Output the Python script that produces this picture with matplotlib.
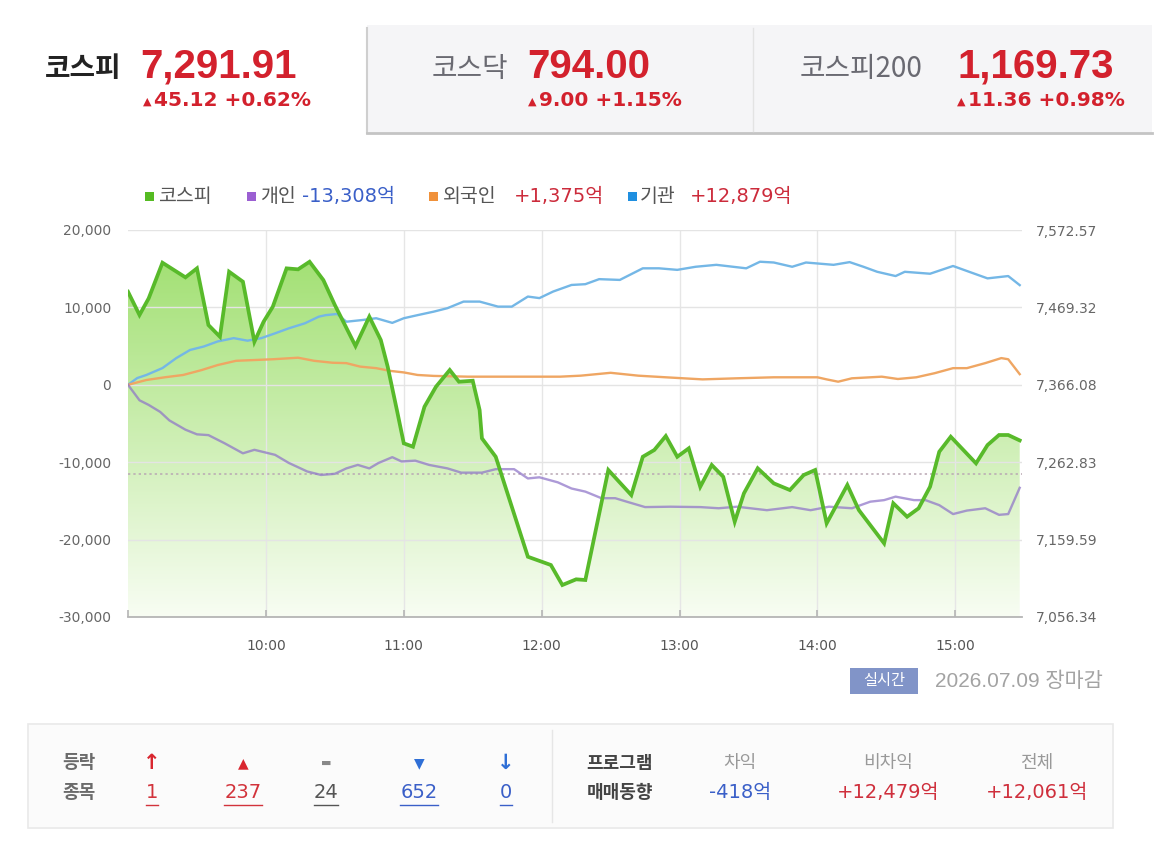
import numpy as np
import matplotlib
matplotlib.use("Agg")
import matplotlib.pyplot as plt
from matplotlib.patches import Rectangle
from matplotlib.lines import Line2D
from matplotlib.colors import to_rgb

plt.rcParams['font.family'] = ['Noto Sans CJK KR', 'DejaVu Sans']

# ---- data (time = minutes after 09:00) ----
kospi_t = [0, 5, 9, 15, 25, 30, 35, 40, 44, 50, 55, 59, 63, 69, 74, 79, 85, 90, 99, 105,
           110, 113, 117, 120, 124, 129, 134, 140, 144, 150, 153, 154, 160, 174, 184, 189, 195, 199, 209, 219,
           224, 229, 234, 239, 244, 249, 254, 259, 264, 268, 274, 281, 288, 294, 299, 304, 313, 318, 329, 333,
           339, 344, 349, 353, 358, 369, 374, 379, 383, 388]
kospi_v = [7490.2, 7459.2, 7481.4, 7528.9, 7509.4, 7521.4, 7445.8, 7430.2, 7516.9, 7503.6,
           7423.5, 7450.2, 7470.2, 7521.4, 7520.1, 7530.2, 7505.8, 7472.5, 7417.8, 7456.9,
           7425.8, 7390.2, 7332.4, 7288.0, 7283.5, 7336.8, 7363.5, 7385.8, 7370.2, 7371.5,
           7332.4, 7294.7, 7270.1, 7136.7, 7125.7, 7099.0, 7106.6, 7105.7, 7252.4, 7219.0,
           7270.1, 7279.1, 7297.7, 7270.1, 7281.3, 7230.1, 7259.1, 7243.4, 7183.4, 7221.3,
           7254.7, 7234.6, 7225.7, 7245.7, 7252.4, 7181.3, 7232.4, 7199.0, 7154.6, 7208.0,
           7190.1, 7201.3, 7230.1, 7276.8, 7296.8, 7261.3, 7285.7, 7299.1, 7299.1, 7291.9]
prev_close = 7246.79

# 개인 (individuals), 억 won
ind_t = [0, 5, 9, 14, 18, 25, 30, 35, 42, 50, 55, 64, 70, 78, 84, 90, 95, 100, 105, 109,
         115, 119, 125, 131, 139, 145, 154, 160, 168, 174, 179, 187, 193, 199, 206, 212, 217, 225, 236, 249,
         257, 265, 278, 289, 297, 305, 315, 323, 329, 334, 342, 347, 353, 359, 365, 373, 379, 383, 388]
ind_v = [0, -2000, -2600, -3500, -4600, -5800, -6400, -6500, -7550, -8850,
         -8400, -9050, -10100, -11200, -11650, -11500, -10800, -10350, -10800, -10100,
         -9350, -9900, -9800, -10350, -10800, -11350, -11350, -10900, -10900, -12100,
         -11950, -12600, -13400, -13800, -14650, -14650, -15100, -15800, -15750, -15800,
         -15950, -15750, -16200, -15800, -16200, -15750, -15950, -15100, -14900, -14450,
         -14900, -14900, -15550, -16700, -16250, -15950, -16800, -16700, -13308]

# 외국인 (foreigners)
frg_t = [0, 8, 16, 24, 32, 39, 47, 55, 63, 74, 81, 89, 95, 101, 108, 114, 120, 126, 133, 148,
         164, 179, 188, 197, 210, 222, 234, 250, 265, 281, 300, 304, 309, 315, 328, 335, 343, 351, 359, 365,
         373, 380, 383, 388]
frg_v = [0, 620, 970, 1270, 1900, 2550, 3100, 3200, 3300, 3500,
         3100, 2850, 2800, 2350, 2150, 1800, 1600, 1270, 1150, 1050,
         1050, 1050, 1050, 1180, 1550, 1180, 970, 700, 840, 970,
         970, 700, 400, 840, 1050, 750, 970, 1500, 2150, 2150,
         2800, 3450, 3300, 1375]

# 기관 (institutions)
inst_t = [0, 4, 8, 15, 21, 27, 33, 39, 46, 52, 58, 64, 70, 77, 83, 86, 91, 95, 102, 108,
          115, 120, 126, 133, 139, 146, 153, 161, 167, 174, 179, 185, 193, 199, 205, 214, 224, 231, 239, 247,
          256, 269, 275, 281, 289, 295, 307, 314, 320, 326, 334, 338, 349, 359, 366, 374, 383, 388]
inst_v = [0, 870, 1270, 2160, 3450, 4500, 4950, 5600, 6030, 5700,
          6030, 6650, 7300, 7950, 8800, 9000, 9150, 8150, 8370, 8600,
          8000, 8600, 9000, 9450, 9900, 10750, 10750, 10100, 10100, 11400,
          11200, 12050, 12900, 13000, 13650, 13550, 15050, 15050, 14850, 15250,
          15500, 15050, 15900, 15800, 15250, 15800, 15500, 15850, 15250, 14600,
          14050, 14600, 14350, 15350, 14600, 13750, 14050, 12879]

left_ticks = [-30000, -20000, -10000, 0, 10000, 20000]
left_labels = ['-30,000', '-20,000', '-10,000', '0', '10,000', '20,000']
right_lo, right_hi = 7056.34, 7572.57
right_labels = ['7,056.34', '7,159.59', '7,262.83', '7,366.08', '7,469.32', '7,572.57']
hour_ticks = [0, 60, 120, 180, 240, 300, 360]
hour_labels = ['', '10:00', '11:00', '12:00', '13:00', '14:00', '15:00']

legend_names = ['코스피', '개인', '외국인', '기관']
legend_amounts = ['', '-13,308억', '+1,375억', '+12,879억']

W, H = 1160, 850
RED = '#d3212d'
BLUE = '#3a5fc8'
NUM = ['Liberation Sans', 'Noto Sans CJK KR']
DV = ['DejaVu Sans', 'Noto Sans CJK KR']


def fx(x):
    return x / W


def fy(y):
    return 1 - y / H


fig = plt.figure(figsize=(W / 100, H / 100), dpi=100)
fig.patch.set_facecolor('white')

# ---- header ----
fig.add_artist(Rectangle((fx(367), fy(133)), (1152 - 367) / W, 108 / H, transform=fig.transFigure,
                         facecolor='#f5f5f7', edgecolor='none', zorder=0))
fig.add_artist(Line2D([fx(367), fx(367)], [fy(28), fy(133)], color='#cfcfcf', lw=1.5))
fig.add_artist(Line2D([fx(367), fx(1152)], [fy(133), fy(133)], color='#c4c4c4', lw=2))
fig.add_artist(Line2D([fx(753), fx(753)], [fy(28), fy(131)], color='#e3e3e3', lw=1))

headers = [
    (45, '코스피', '#222222', 'bold', 140, '7,291.91', 143, '45.12 +0.62%'),
    (432, '코스닥', '#6a6a72', 'normal', 527, '794.00', 528, '9.00 +1.15%'),
    (800, '코스피200', '#6a6a72', 'normal', 958, '1,169.73', 957, '11.36 +0.98%'),
]
for nx, name, ncol, nw, vx, val, cx, chg in headers:
    fig.text(fx(nx), fy(77), name, fontsize=20, color=ncol, fontweight=nw, va='baseline', ha='left')
    fig.text(fx(vx), fy(78), val, fontsize=29, color=RED, fontweight='bold', family=NUM,
             va='baseline', ha='left')
    fig.text(fx(cx), fy(105), '▲', fontsize=8, color=RED, va='baseline', ha='left', family=DV)
    fig.text(fx(cx + 11), fy(106), chg, fontsize=14.5, color=RED, fontweight='bold', family=DV,
             va='baseline', ha='left')

# ---- legend ----
leg_colors = ['#55bb22', '#9b5fd2', '#f0913a', '#1f8fe0']
sq_x = [145, 247, 429, 628]
name_x = [158, 260, 443, 640]
amt_x = [0, 302, 514, 690]
amt_col = ['', BLUE, '#cc2b3b', '#cc2b3b']
for i in range(4):
    fig.add_artist(Rectangle((fx(sq_x[i]), fy(201)), 9 / W, 9 / H, transform=fig.transFigure,
                             facecolor=leg_colors[i], edgecolor='none'))
    fig.text(fx(name_x[i]), fy(196), legend_names[i], fontsize=14, color='#555555', va='center', ha='left')
    if legend_amounts[i]:
        fig.text(fx(amt_x[i]), fy(196), legend_amounts[i], fontsize=14, color=amt_col[i], family=DV,
                 va='center', ha='left')

# ---- chart ----
ax = fig.add_axes([fx(128), fy(617), 894 / W, 387 / H])
ax2 = ax.twinx()
ax.set_zorder(ax2.get_zorder() + 1)
ax.patch.set_visible(False)

poly = ax2.fill_between(kospi_t, kospi_v, right_lo, facecolor='none', edgecolor='none')
g = np.linspace(0, 1, 300)[:, None, None]
top_c = np.array(to_rgb('#9cde6a'))
bot_c = np.array(to_rgb('#f8fdf3'))
grad = top_c * (1 - g) + bot_c * g
im = ax2.imshow(grad, extent=[0, 389, right_lo, right_hi], aspect='auto', origin='upper',
                interpolation='bilinear', zorder=0)
im.set_clip_path(poly.get_paths()[0], transform=ax2.transData)
ax2.axhline(prev_close, color='#b9a7b3', lw=1.1, ls=(0, (1.5, 2)), zorder=1)
ax2.set_xlim(0, 389)
ax2.set_ylim(right_lo, right_hi)
ax2.set_yticks(np.linspace(right_lo, right_hi, 6), right_labels, family='DejaVu Sans')
ax2.tick_params(axis='y', length=0, pad=10, labelsize=10, labelcolor='#666666')
for s in ax2.spines.values():
    s.set_visible(False)

ax.set_axisbelow(True)
ax.grid(axis='y', color='#e4e4e4', lw=1)
for h in hour_ticks[1:]:
    ax.axvline(h, color='#e6e6e6', lw=1, zorder=0.5)

ax.plot(inst_t, inst_v, color='#74b7e6', lw=1.7, zorder=3)
ax.plot(frg_t, frg_v, color='#efa663', lw=1.7, zorder=3)
ax.plot(ind_t, ind_v, color='#8e74c8', lw=1.7, alpha=0.72, zorder=3)
ax.plot(kospi_t, kospi_v, color='#58ba2a', lw=2.7, zorder=5, transform=ax2.transData,
        solid_joinstyle='miter')

ax.set_xlim(0, 389)
ax.set_ylim(-30000, 20000)
ax.set_yticks(left_ticks, left_labels, family='DejaVu Sans')
ax.set_xticks(hour_ticks, hour_labels, family='DejaVu Sans')
ax.tick_params(axis='y', length=0, pad=12, labelsize=10, labelcolor='#666666')
ax.tick_params(axis='x', direction='in', length=5, width=1.2, color='#b5b5b5', pad=16,
               labelsize=10, labelcolor='#555555')
for side in ['top', 'left', 'right']:
    ax.spines[side].set_visible(False)
ax.spines['bottom'].set_color('#b5b5b5')
ax.spines['bottom'].set_linewidth(1.3)

# ---- realtime badge ----
fig.add_artist(Rectangle((fx(850), fy(694)), 68 / W, 26 / H, transform=fig.transFigure,
                         facecolor='#8194c8', edgecolor='none'))
fig.text(fx(884), fy(681), '실시간', fontsize=11, color='white', ha='center', va='center')
fig.text(fx(935), fy(681), '2026.07.09 장마감', fontsize=15, color='#a3a3a3', family=NUM,
         ha='left', va='center')

# ---- bottom table ----
fig.add_artist(Rectangle((fx(28), fy(828)), (1113 - 28) / W, 104 / H, transform=fig.transFigure,
                         facecolor='#fbfbfb', edgecolor='#e9e9e9', lw=1.2))
fig.add_artist(Line2D([fx(552), fx(552)], [fy(730), fy(822)], color='#e6e6e6', lw=1))

r1, r2 = 763, 793
fig.text(fx(79), fy(r1), '등락', fontsize=13, color='#6b6b6b', fontweight='bold', ha='center', va='center')
fig.text(fx(79), fy(r2), '종목', fontsize=13, color='#6b6b6b', fontweight='bold', ha='center', va='center')
sym = ['↑', '▲', '▬', '▼', '↓']
sym_size = [15, 10, 8, 10, 15]
counts = ['1', '237', '24', '652', '0']
cnt_col = ['#d2333b', '#d2333b', '#555555', BLUE, BLUE]
sym_col = ['#d9262f', '#d9262f', '#888888', '#2f6fd6', '#2f6fd6']
col_x = [152, 243, 326, 419, 506]
cnt_texts = []
for i in range(5):
    fig.text(fx(col_x[i]), fy(r1), sym[i], fontsize=sym_size[i], color=sym_col[i], fontweight='bold',
             family=DV, ha='center', va='center')
    cnt_texts.append(fig.text(fx(col_x[i]), fy(r2), counts[i], fontsize=14, color=cnt_col[i],
                              family=DV, ha='center', va='center'))

fig.text(fx(620), fy(r1), '프로그램', fontsize=13, color='#444444', fontweight='bold', ha='center', va='center')
fig.text(fx(620), fy(r2), '매매동향', fontsize=13, color='#444444', fontweight='bold', ha='center', va='center')
prog_head = ['차익', '비차익', '전체']
prog_val = ['-418억', '+12,479억', '+12,061억']
prog_col = [BLUE, '#cf2f3c', '#cf2f3c']
prog_x = [740, 888, 1037]
for i in range(3):
    fig.text(fx(prog_x[i]), fy(r1), prog_head[i], fontsize=13, color='#999999', ha='center', va='center')
    fig.text(fx(prog_x[i]), fy(r2), prog_val[i], fontsize=14, color=prog_col[i], family=DV,
             ha='center', va='center')

fig.canvas.draw()
rend = fig.canvas.get_renderer()
for t, c in zip(cnt_texts, cnt_col):
    bb = t.get_window_extent(rend)
    fig.add_artist(Line2D([bb.x0 / W, bb.x1 / W], [fy(805), fy(805)], color=c, lw=1))

fig.savefig('out.png', dpi=100)
